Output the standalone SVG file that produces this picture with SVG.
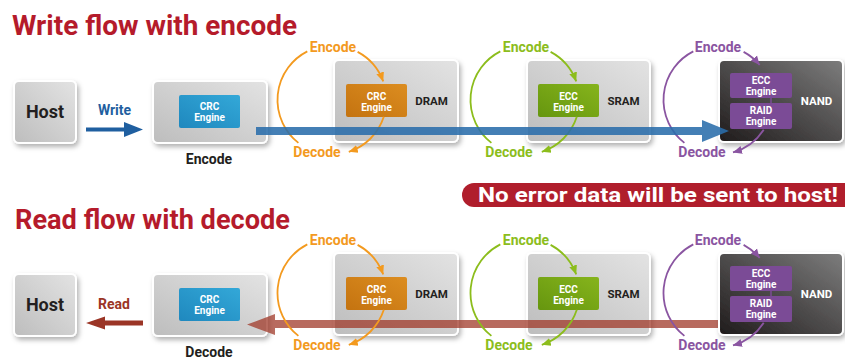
<svg xmlns="http://www.w3.org/2000/svg" width="845" height="360" viewBox="0 0 845 360">
<defs>
<style>
.title{font-family:Roboto,"Open Sans",sans-serif;font-weight:700;font-size:28px;fill:#b51b2b}
.host{font-family:Roboto,sans-serif;font-weight:700;font-size:18px;fill:#231f20;text-anchor:middle}
.lbl{font-family:Roboto,sans-serif;font-weight:700;font-size:14px;text-anchor:middle}
.eng{font-family:Roboto,sans-serif;font-weight:700;font-size:10px;fill:#fff;text-anchor:middle}
.mem{font-family:Roboto,sans-serif;font-weight:700;font-size:11.5px;text-anchor:middle}
.box{fill:url(#gGray);stroke:#fff;stroke-width:2;filter:url(#sh)}
.arc{fill:none;stroke-width:1.8}
.or{stroke:#f39a1f;fill:#f39a1f}
.gr{stroke:#8cbd1c;fill:#8cbd1c}
.pu{stroke:#8a55a1;fill:#8a55a1}
</style>
<linearGradient id="gGray" x1="0" y1="1" x2="1" y2="0">
<stop offset="0" stop-color="#bdbdbd"/><stop offset="1" stop-color="#e3e3e3"/>
</linearGradient>
<linearGradient id="gDark" x1="0" y1="1" x2="1" y2="0">
<stop offset="0" stop-color="#1f1b1b"/><stop offset="1" stop-color="#7d7d7d"/>
</linearGradient>
<linearGradient id="gBlue" x1="0" y1="1" x2="1" y2="0">
<stop offset="0" stop-color="#1f88be"/><stop offset="1" stop-color="#33a8d8"/>
</linearGradient>
<linearGradient id="gOr" x1="0" y1="1" x2="1" y2="0">
<stop offset="0" stop-color="#c47310"/><stop offset="1" stop-color="#dc8d20"/>
</linearGradient>
<linearGradient id="gGr" x1="0" y1="1" x2="1" y2="0">
<stop offset="0" stop-color="#66960f"/><stop offset="1" stop-color="#86b41c"/>
</linearGradient>
<filter id="sh" x="-20%" y="-20%" width="150%" height="150%">
<feDropShadow dx="2" dy="3" stdDeviation="2.5" flood-color="#000" flood-opacity="0.3"/>
</filter>
<marker id="mOr" markerUnits="userSpaceOnUse" markerWidth="10" markerHeight="10" viewBox="0 0 10 10" refX="9" refY="5" orient="auto"><path d="M0,1 L9,5 L0,9 Z" fill="#f39a1f"/></marker>
<marker id="mGr" markerUnits="userSpaceOnUse" markerWidth="10" markerHeight="10" viewBox="0 0 10 10" refX="9" refY="5" orient="auto"><path d="M0,1 L9,5 L0,9 Z" fill="#8cbd1c"/></marker>
<marker id="mPu" markerUnits="userSpaceOnUse" markerWidth="10" markerHeight="10" viewBox="0 0 10 10" refX="9" refY="5" orient="auto"><path d="M0,1 L9,5 L0,9 Z" fill="#8a55a1"/></marker>
</defs>
<rect width="845" height="360" fill="#fff"/>

<text class="title" x="12" y="35" textLength="285" lengthAdjust="spacingAndGlyphs">Write flow with encode</text>
<text class="title" x="15" y="229" textLength="275" lengthAdjust="spacingAndGlyphs">Read flow with decode</text>

<g id="banner">
<rect x="462" y="183" width="400" height="24" rx="12" fill="#b01e2c"/>
<text x="478" y="202" font-family="Roboto,sans-serif" font-weight="700" font-size="20" fill="#fff" textLength="360" lengthAdjust="spacingAndGlyphs">No error data will be sent to host!</text>
</g>

<!-- Write row nodes -->
<g id="host-w"><rect class="box" x="14" y="81" width="62" height="62" rx="5"/><text class="host" x="45" y="118">Host</text></g>
<g id="crc-w"><rect class="box" x="153" y="81" width="114" height="62" rx="5"/>
<rect x="179" y="95" width="61" height="33" rx="2" fill="url(#gBlue)"/>
<text class="eng" x="209.5" y="110">CRC</text><text class="eng" x="209.5" y="120.5">Engine</text>
<text class="lbl" x="209" y="164" fill="#231f20">Encode</text></g>
<g id="dram-w"><rect class="box" x="334" y="60" width="124" height="82" rx="5"/>
<rect x="346" y="84" width="61" height="33" rx="2" fill="url(#gOr)"/>
<text class="eng" x="376.5" y="100">CRC</text><text class="eng" x="376.5" y="110.5">Engine</text>
<text class="mem" x="431.5" y="104.5" fill="#231f20">DRAM</text></g>
<g id="sram-w"><rect class="box" x="527" y="60" width="123" height="82" rx="5"/>
<rect x="538" y="84" width="61" height="33" rx="2" fill="url(#gGr)"/>
<text class="eng" x="568.5" y="100">ECC</text><text class="eng" x="568.5" y="110.5">Engine</text>
<text class="mem" x="623.5" y="104.5" fill="#231f20">SRAM</text></g>

<!-- Read row nodes -->
<g id="host-r"><rect class="box" x="14" y="274" width="62" height="62" rx="5"/><text class="host" x="45" y="311">Host</text></g>
<g id="crc-r"><rect class="box" x="153" y="274" width="114" height="62" rx="5"/>
<rect x="179" y="288" width="61" height="33" rx="2" fill="url(#gBlue)"/>
<text class="eng" x="209.5" y="303">CRC</text><text class="eng" x="209.5" y="313.5">Engine</text>
<text class="lbl" x="209" y="357" fill="#231f20">Decode</text></g>
<g id="dram-r"><rect class="box" x="334" y="253" width="124" height="82" rx="5"/>
<rect x="346" y="277" width="61" height="33" rx="2" fill="url(#gOr)"/>
<text class="eng" x="376.5" y="293">CRC</text><text class="eng" x="376.5" y="303.5">Engine</text>
<text class="mem" x="431.5" y="297.5" fill="#231f20">DRAM</text></g>
<g id="sram-r"><rect class="box" x="527" y="253" width="123" height="82" rx="5"/>
<rect x="538" y="277" width="61" height="33" rx="2" fill="url(#gGr)"/>
<text class="eng" x="568.5" y="293">ECC</text><text class="eng" x="568.5" y="303.5">Engine</text>
<text class="mem" x="623.5" y="297.5" fill="#231f20">SRAM</text></g>

<g id="connectors">
<!-- small write / read arrows -->
<text class="lbl" x="114.5" y="115" fill="#1f5fa0" font-size="15">Write</text>
<path d="M86,127.5 H124 V122 L143,129.5 L124,137 V131.5 H86 Z" fill="#1f5fa0"/>
<text class="lbl" x="114" y="309" fill="#9b3526" font-size="15">Read</text>
<path d="M143,320.5 H105 V316.5 L86,323 L105,329.5 V325.5 H143 Z" fill="#9b3526"/>

<!-- read big arrow (behind NAND) -->
<path d="M719,320 H275 V314 L247,324.5 L275,335 V328 H719 Z" fill="#a03a2a" fill-opacity="0.75"/>

<!-- write row loops -->
<g class="or">
<path class="arc" d="M307.3,51.4 A54.5,54.5 0 0 0 298.4,142.9"/>
<path class="arc" d="M357.6,51.9 A54.5,54.5 0 0 1 383.2,81.4" marker-end="url(#mOr)"/>
<path class="arc" d="M383.8,116.8 A54.5,54.5 0 0 1 348.8,151.8" marker-end="url(#mOr)"/>
</g>
<g class="gr">
<path class="arc" d="M500.3,51.4 A54.5,54.5 0 0 0 491.4,142.9"/>
<path class="arc" d="M550.6,51.9 A54.5,54.5 0 0 1 576.2,81.4" marker-end="url(#mGr)"/>
<path class="arc" d="M576.8,116.8 A54.5,54.5 0 0 1 541.8,151.8" marker-end="url(#mGr)"/>
</g>
<!-- read row loops -->
<g class="or">
<path class="arc" d="M307.3,244.4 A54.5,54.5 0 0 0 298.4,335.9"/>
<path class="arc" d="M357.6,244.9 A54.5,54.5 0 0 1 383.2,274.4" marker-end="url(#mOr)"/>
<path class="arc" d="M383.8,309.8 A54.5,54.5 0 0 1 348.8,344.8" marker-end="url(#mOr)"/>
</g>
<g class="gr">
<path class="arc" d="M500.3,244.4 A54.5,54.5 0 0 0 491.4,335.9"/>
<path class="arc" d="M550.6,244.9 A54.5,54.5 0 0 1 576.2,274.4" marker-end="url(#mGr)"/>
<path class="arc" d="M576.8,309.8 A54.5,54.5 0 0 1 541.8,344.8" marker-end="url(#mGr)"/>
</g>
</g>

<!-- NAND nodes -->
<g id="nand-w"><rect x="719" y="60" width="124" height="82" rx="5" fill="url(#gDark)" stroke="#fff" stroke-width="2" filter="url(#sh)"/>
<line x1="771" y1="98" x2="771" y2="103" stroke="#7b4b96" stroke-width="1.5"/>
<rect x="730" y="73" width="62" height="25" rx="2" fill="#7b4b96"/>
<rect x="730" y="103" width="62" height="26" rx="2" fill="#7b4b96"/>
<text class="eng" x="761" y="84">ECC</text><text class="eng" x="761" y="94.5">Engine</text>
<text class="eng" x="761" y="114">RAID</text><text class="eng" x="761" y="124.5">Engine</text>
<text class="mem" x="816.5" y="104.5" fill="#fff">NAND</text></g>
<g id="nand-r"><rect x="719" y="253" width="124" height="82" rx="5" fill="url(#gDark)" stroke="#fff" stroke-width="2" filter="url(#sh)"/>
<line x1="771" y1="291" x2="771" y2="296" stroke="#7b4b96" stroke-width="1.5"/>
<rect x="730" y="266" width="62" height="25" rx="2" fill="#7b4b96"/>
<rect x="730" y="296" width="62" height="26" rx="2" fill="#7b4b96"/>
<text class="eng" x="761" y="277">ECC</text><text class="eng" x="761" y="287.5">Engine</text>
<text class="eng" x="761" y="307">RAID</text><text class="eng" x="761" y="317.5">Engine</text>
<text class="mem" x="816.5" y="297.5" fill="#fff">NAND</text></g>

<g id="connectors-2">
<g class="pu">
<path class="arc" d="M693.3,51.4 A54.5,54.5 0 0 0 684.4,142.9"/>
<path class="arc" d="M743.6,51.9 A54.5,54.5 0 0 1 759.7,65" marker-end="url(#mPu)"/>
<path class="arc" d="M763.7,129.7 A54.5,54.5 0 0 1 733,152.4" marker-end="url(#mPu)"/>
<path class="arc" d="M693.3,244.4 A54.5,54.5 0 0 0 684.4,335.9"/>
<path class="arc" d="M743.6,244.9 A54.5,54.5 0 0 1 759.7,258" marker-end="url(#mPu)"/>
<path class="arc" d="M763.7,322.7 A54.5,54.5 0 0 1 733,345.4" marker-end="url(#mPu)"/>
</g>
<!-- write big arrow -->
<path d="M256,127 H702 V120 L729,131 L702,142 V135 H256 Z" fill="#2a6dab" fill-opacity="0.88"/>
<!-- loop labels -->
<g class="lbl" fill="#f39a1f">
<text x="333" y="52">Encode</text><text x="317" y="157">Decode</text>
<text x="333" y="245">Encode</text><text x="317" y="350">Decode</text>
</g>
<g class="lbl" fill="#8cbd1c">
<text x="526" y="52">Encode</text><text x="509" y="157">Decode</text>
<text x="526" y="245">Encode</text><text x="509" y="350">Decode</text>
</g>
<g class="lbl" fill="#8a55a1">
<text x="718" y="52">Encode</text><text x="702" y="157">Decode</text>
<text x="718" y="245">Encode</text><text x="702" y="350">Decode</text>
</g>
</g>
</svg>
